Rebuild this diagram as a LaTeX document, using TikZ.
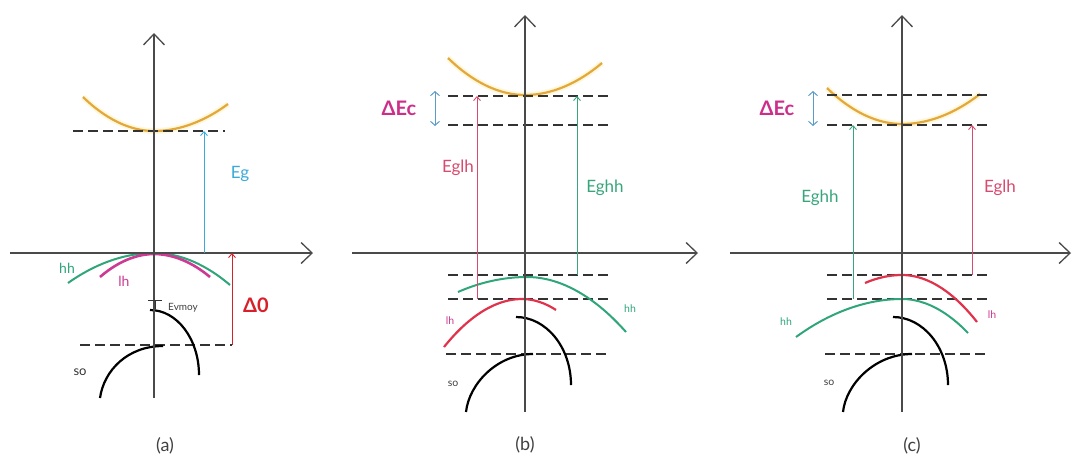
\documentclass[tikz,border=0pt]{standalone}
\usepackage{fontspec}
\setmainfont{Lato}
\usetikzlibrary{arrows.meta}
\definecolor{axisgray}{HTML}{4A4A4A}
\definecolor{cband}{HTML}{E3A83C}
\definecolor{cglow}{HTML}{FFF8DC}
\definecolor{hhgreen}{HTML}{2FA57A}
\definecolor{lhmag}{HTML}{CC3A93}
\definecolor{lhred}{HTML}{E0334B}
\definecolor{eglh}{HTML}{D84A6E}
\definecolor{eghh}{HTML}{38A57C}
\definecolor{egblue}{HTML}{3AAAD8}
\definecolor{decmag}{HTML}{CC2F8A}
\definecolor{dzred}{HTML}{D8202A}
\definecolor{dblue}{HTML}{5B9BC8}
\begin{document}
\begin{tikzpicture}[x=1pt,y=-1pt,
  axis/.style={draw=axisgray,line width=1.3pt,-{Straight Barb[length=11pt,width=21pt,line width=1.3pt]}},
  cbandline/.style={draw=cband,line width=2.2pt},
  glowline/.style={draw=cglow,line width=6pt},
  lvl/.style={draw=black!80,line width=1.1pt,dash pattern=on 10pt off 5pt},
  sarrow/.style={line width=0.9pt,-{Straight Barb[length=4pt,width=7pt,line width=0.9pt]}},
  darrow/.style={draw=dblue,line width=1pt,{Straight Barb[length=4pt,width=9pt,line width=1pt]}-{Straight Barb[length=4pt,width=9pt,line width=1pt]}},
  soarc/.style={draw=black,line width=2.2pt},
  hharc/.style={draw=hhgreen,line width=2pt},
  lharc/.style={draw=lhred,line width=2.2pt},
  lbl/.style={inner sep=0pt,font=\fontsize{17}{19}\selectfont},
  smalltxt/.style={inner sep=0pt,font=\fontsize{10.5}{12}\selectfont},
  bigl/.style={inner sep=0pt,font=\fontsize{20}{22}\selectfont\bfseries},
  captxt/.style={inner sep=0pt,font=\fontsize{18}{20}\selectfont,text=black!75}]
\useasboundingbox (0,0) rectangle (1073,459);

%%%%%%%% (a)
\coordinate (aYb) at (154,398); \coordinate (aYt) at (154,33);
\coordinate (aXl) at (10,253); \coordinate (aXr) at (313,253);
\draw[glowline] (83,97) parabola bend (154,131) (228,104);
\draw[cbandline] (83,97) parabola bend (154,131) (228,104);
\draw[lvl] (73,131) -- (225,131);
\draw[lvl] (80,345) -- (232,345);
\draw[hharc] (68,283) parabola bend (154,253) (230,285);
\draw[draw=lhmag,line width=2.6pt] (100,277) parabola bend (154,254) (210,277);
\draw[soarc] (150,310) .. controls (177,310) and (199,339) .. (199,375);
\draw[soarc] (100,398) .. controls (104,370) and (128,346) .. (163,346);
\draw[axis] (aYb) -- (aYt);
\draw[axis] (aXl) -- (aXr);
\coordinate (aEg0) at (204,253); \coordinate (aEg1) at (204,131);
\draw[sarrow,egblue] (aEg0) -- (aEg1);
\coordinate (aD0) at (232,345); \coordinate (aD1) at (232,253);
\draw[sarrow,dzred] (aD0) -- (aD1);
\coordinate (aEv0) at (148,300); \coordinate (aEv1) at (162,300);
\coordinate (aEv2) at (155,300); \coordinate (aEv3) at (155,309);
\draw[black!80,line width=0.8pt] (aEv0) -- (aEv1) (aEv2) -- (aEv3);
\node[lbl,text=egblue] (aEg) at (240,174) {Eg};
\node[bigl,text=dzred] (aDelta) at (256,305) {Δ0};
\node[smalltxt,text=hhgreen,font=\fontsize{14}{16}\selectfont] (ahh) at (67,268) {hh};
\node[smalltxt,text=lhmag,font=\fontsize{14}{16}\selectfont] (alh) at (124,281) {lh};
\node[smalltxt,text=black!75,font=\fontsize{10}{12}\selectfont] (aEvmoy) at (183,308) {Evmoy};
\node[smalltxt,text=black!80,font=\fontsize{13}{15}\selectfont] (aso) at (80,372) {so};
\node[captxt] (acap) at (165,446) {(a)};

%%%%%%%% (b)
\coordinate (bYb) at (525,412); \coordinate (bYt) at (525,15);
\coordinate (bXl) at (352,253); \coordinate (bXr) at (698,253);
\draw[glowline] (448,58) parabola bend (525,95) (602,63);
\draw[cbandline] (448,58) parabola bend (525,95) (602,63);
\draw[lvl] (448,96) -- (608,96);
\draw[lvl] (448,125) -- (610,125);
\draw[lvl] (448,275) -- (608,275);
\draw[lvl] (448,299) -- (610,299);
\draw[lvl] (446,354) -- (608,354);
\draw[hharc] (458,292) parabola bend (527,277) (626,332);
\draw[lharc] (444,347) parabola bend (522,299) (556,310);
\draw[soarc] (516,317) .. controls (546,317) and (571,347) .. (571,385);
\draw[soarc] (466,412) .. controls (469,384) and (497,354) .. (533,354);
\draw[axis] (bYb) -- (bYt);
\draw[axis] (bXl) -- (bXr);
\coordinate (bL0) at (477,299); \coordinate (bL1) at (477,96);
\draw[sarrow,eglh] (bL0) -- (bL1);
\coordinate (bH0) at (577,275); \coordinate (bH1) at (577,96);
\draw[sarrow,eghh] (bH0) -- (bH1);
\coordinate (bD0) at (435,91); \coordinate (bD1) at (435,126);
\draw[darrow] (bD0) -- (bD1);
\node[bigl,text=decmag] (bDEc) at (399,108) {ΔEc};
\node[lbl,text=eglh] (bEglh) at (458,168) {Eglh};
\node[lbl,text=eghh] (bEghh) at (605,188) {Eghh};
\node[smalltxt,text=hhgreen] (bhh) at (630,309) {hh};
\node[smalltxt,text=lhmag] (blh) at (450,321) {lh};
\node[smalltxt,text=black!75] (bso) at (453,384) {so};
\node[captxt] (bcap) at (525,445) {(b)};

%%%%%%%% (c)
\coordinate (cYb) at (902,412); \coordinate (cYt) at (902,15);
\coordinate (cXl) at (730,253); \coordinate (cXr) at (1071,253);
\draw[glowline] (827,88) parabola bend (902,124) (980,94);
\draw[cbandline] (827,88) parabola bend (902,124) (980,94);
\draw[lvl] (827,95) -- (987,95);
\draw[lvl] (827,125) -- (987,125);
\draw[lvl] (827,275) -- (987,275);
\draw[lvl] (827,299) -- (987,299);
\draw[lvl] (825,354) -- (985,354);
\draw[lharc] (865,283) parabola bend (902,275) (977,322);
\draw[hharc] (796,337) parabola bend (902,299) (968,333);
\draw[soarc] (893,317) .. controls (923,317) and (948,347) .. (948,385);
\draw[soarc] (843,412) .. controls (846,384) and (875,354) .. (912,354);
\draw[axis] (cYb) -- (cYt);
\draw[axis] (cXl) -- (cXr);
\coordinate (cH0) at (853,299); \coordinate (cH1) at (853,125);
\draw[sarrow,eghh] (cH0) -- (cH1);
\coordinate (cL0) at (972,275); \coordinate (cL1) at (972,125);
\draw[sarrow,eglh] (cL0) -- (cL1);
\coordinate (cD0) at (813,91); \coordinate (cD1) at (813,126);
\draw[darrow] (cD0) -- (cD1);
\node[bigl,text=decmag] (cDEc) at (777,108) {ΔEc};
\node[lbl,text=eghh] (cEghh) at (820,198) {Eghh};
\node[lbl,text=eglh] (cEglh) at (1000,188) {Eglh};
\node[smalltxt,text=lhmag] (clh) at (992,315) {lh};
\node[smalltxt,text=hhgreen] (chh) at (786,322) {hh};
\node[smalltxt,text=black!75] (cso) at (829,383) {so};
\node[captxt] (ccap) at (912,446) {(c)};
\end{tikzpicture}
\end{document}
